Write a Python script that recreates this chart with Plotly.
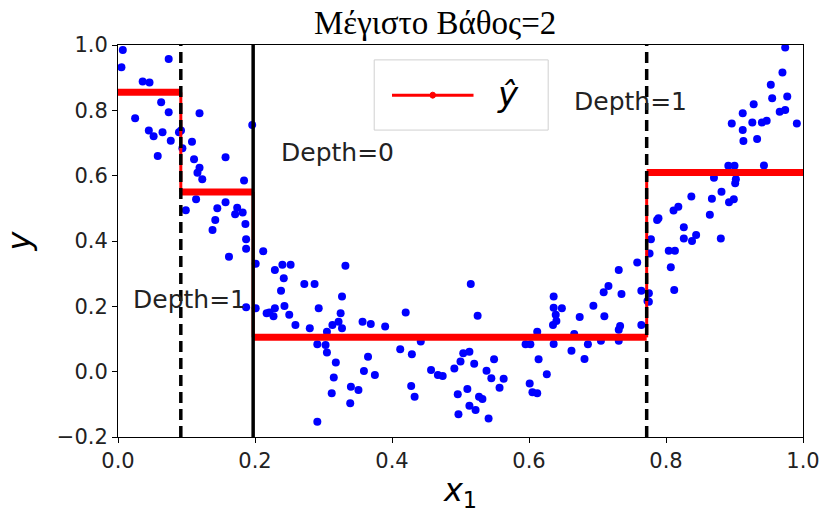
import plotly.graph_objects as go

title_text = "Μέγιστο Βάθος=2"
legend_label = "ŷ"

x_pts = [0.007,0.074,0.005,0.036,0.046,0.063,0.074,0.119,0.025,0.045,0.052,0.065,0.089,0.077,0.092,0.108,0.094,0.058,0.111,0.157,0.119,0.116,0.123,0.184,0.196,
         0.114,0.099,0.157,0.145,0.174,0.182,0.171,0.142,0.186,0.138,0.187,0.187,0.212,0.162,0.201,0.187,0.217,
         0.229,0.240,0.252,0.332,0.242,0.272,0.287,0.238,0.327,0.201,0.229,0.243,0.293,0.221,0.227,0.250,0.325,0.420,0.322,0.259,0.357,0.369,0.390,0.280,0.305,0.313,0.327,0.442,0.291,0.303,0.412,0.305,0.429,0.365,0.318,0.457,0.359,0.375,0.315,0.340,0.351,0.428,0.433,0.312,0.339,0.291,0.467,
         0.515,0.525,0.504,0.513,0.500,0.491,0.474,0.520,0.549,0.538,0.545,0.563,0.557,0.510,0.496,0.527,0.532,0.513,0.522,0.497,0.541,0.595,0.602,0.612,0.614,0.626,0.601,0.605,0.612,0.636,0.636,0.648,0.639,0.640,0.635,0.636,0.662,0.681,0.666,0.674,0.694,0.686,0.705,0.710,0.709,0.716,0.735,0.731,0.731,0.733,0.731,0.758,0.764,0.764,0.776,0.773,
         0.974,0.970,0.953,0.977,0.955,0.966,0.974,0.928,0.912,0.896,0.926,0.940,0.947,0.991,0.912,0.913,0.933,0.891,0.900,0.943,0.870,0.902,
         0.901,0.837,0.867,0.881,0.892,0.899,0.811,0.818,0.864,0.787,0.789,0.826,0.778,0.826,0.844,0.838,0.880,0.804,0.813,0.807,0.812,0.775,0.775]
y_pts = [0.985,0.957,0.932,0.888,0.885,0.825,0.794,0.791,0.776,0.738,0.721,0.733,0.733,0.707,0.738,0.704,0.684,0.660,0.650,0.656,0.624,0.609,0.589,0.585,0.755,
         0.528,0.494,0.519,0.500,0.502,0.487,0.482,0.464,0.452,0.434,0.405,0.376,0.369,0.352,0.330,0.197,0.179,
         0.311,0.327,0.327,0.324,0.286,0.268,0.268,0.248,0.230,0.194,0.194,0.201,0.194,0.181,0.170,0.174,0.179,0.181,0.153,0.143,0.153,0.146,0.138,0.133,0.122,0.143,0.133,0.092,0.084,0.082,0.069,0.059,0.053,0.046,0.028,0.005,0.002,-0.010,-0.018,-0.046,-0.056,-0.044,-0.077,-0.066,-0.097,-0.153,-0.010,
         0.268,0.171,0.056,0.061,0.031,0.010,-0.013,0.024,0.038,0.003,-0.020,-0.022,-0.049,-0.053,-0.069,-0.077,-0.084,-0.104,-0.117,-0.130,-0.143,0.084,0.084,0.122,0.038,-0.008,-0.036,-0.063,-0.066,0.230,0.196,0.194,0.174,0.155,0.143,0.085,0.064,0.039,0.115,0.167,0.202,0.084,0.095,0.170,0.243,0.262,0.238,0.311,0.128,0.140,0.095,0.334,0.248,0.143,0.362,0.216,
         0.992,0.916,0.878,0.842,0.837,0.796,0.801,0.819,0.791,0.760,0.763,0.763,0.768,0.760,0.740,0.706,0.712,0.630,0.630,0.631,0.594,0.589,
         0.577,0.536,0.529,0.551,0.519,0.528,0.493,0.505,0.480,0.464,0.470,0.442,0.405,0.408,0.418,0.400,0.408,0.370,0.370,0.320,0.250,0.240,0.214]

# tree prediction steps
step_x = [0.0, 0.0917, 0.1973, 0.7718, 1.0]
step_y = [0.855, 0.55, 0.105, 0.61]

split_depth0 = 0.1973
splits_depth1 = [0.0917, 0.7718]

# horizontal and vertical pieces of the step function
hx, hy, vx, vy = [], [], [], []
for i in range(len(step_y)):
    hx += [step_x[i], step_x[i + 1], None]
    hy += [step_y[i], step_y[i], None]
for i in range(len(step_y) - 1):
    vx += [step_x[i + 1], step_x[i + 1], None]
    vy += [step_y[i], step_y[i + 1], None]

fig = go.Figure()
fig.add_trace(go.Scatter(x=x_pts, y=y_pts, mode="markers",
                         marker=dict(color="#0000ff", size=8), showlegend=False, hoverinfo="skip"))
fig.add_trace(go.Scatter(x=vx, y=vy, mode="lines", line=dict(color="#ff0000", width=3),
                         showlegend=False))
fig.add_trace(go.Scatter(x=hx, y=hy, mode="lines", line=dict(color="#ff0000", width=7),
                         showlegend=False))

fig.add_shape(type="line", x0=split_depth0, x1=split_depth0, y0=-0.2, y1=1.0, xref="x", yref="y",
              line=dict(color="black", width=3.5))
for s in splits_depth1:
    fig.add_shape(type="line", x0=s, x1=s, y0=-0.2, y1=1.0, xref="x", yref="y",
                  line=dict(color="black", width=3.5, dash="11px,6px"))

# legend box (drawn manually to match the large legend of the reference)
fig.add_shape(type="rect", xref="paper", yref="paper", x0=0.374, x1=0.628, y0=0.783, y1=0.962,
              line=dict(color="#d0d0d0", width=1), fillcolor="white", layer="above")
fig.add_shape(type="line", xref="paper", yref="paper", x0=0.400, x1=0.519, y0=0.872, y1=0.872,
              line=dict(color="#ff0000", width=3), layer="above")
fig.add_shape(type="circle", xref="paper", yref="paper", x0=0.4555, x1=0.4635, y0=0.8643, y1=0.8797,
              line=dict(color="#ff0000", width=1), fillcolor="#ff0000", layer="above")
fig.add_annotation(xref="paper", yref="paper", x=0.570, y=0.930, text="<i>" + legend_label + "</i>",
                   showarrow=False, font=dict(family="DejaVu Sans", size=34, color="black"))

ann_font = dict(family="DejaVu Sans", size=25, color="#222222")
fig.add_annotation(x=0.32, y=0.672, text="Depth=0", showarrow=False, font=ann_font)
fig.add_annotation(x=0.104, y=0.22, text="Depth=1", showarrow=False, font=ann_font)
fig.add_annotation(x=0.748, y=0.826, text="Depth=1", showarrow=False, font=ann_font)

fig.update_layout(
    width=832, height=516,
    margin=dict(l=117, r=25, t=45, b=79),
    paper_bgcolor="white", plot_bgcolor="white",
    title=dict(text=title_text, x=0.523, xanchor="center", y=0.957, yanchor="middle",
               font=dict(family="Liberation Serif", size=33, color="black")),
    showlegend=False,
    font=dict(family="DejaVu Sans", size=21, color="#222222"),
)
fig.update_xaxes(range=[0, 1], tickvals=[0, 0.2, 0.4, 0.6, 0.8, 1.0], tickformat=".1f",
                 showline=True, linecolor="black", linewidth=1, mirror=True,
                 ticks="outside", ticklen=5, tickcolor="black", showgrid=False, zeroline=False,
                 title=dict(text="<i>x</i><sub>1</sub>", font=dict(family="DejaVu Sans", size=32, color="black"), standoff=6))
fig.update_yaxes(range=[-0.2, 1.0], tickvals=[-0.2, 0.0, 0.2, 0.4, 0.6, 0.8, 1.0], tickformat=".1f",
                 showline=True, linecolor="black", linewidth=1, mirror=True,
                 ticks="outside", ticklen=5, tickcolor="black", showgrid=False, zeroline=False,
                 title=dict(text="<i>y</i>", font=dict(family="DejaVu Sans", size=32, color="black"), standoff=22))

fig.write_html("out.html")
